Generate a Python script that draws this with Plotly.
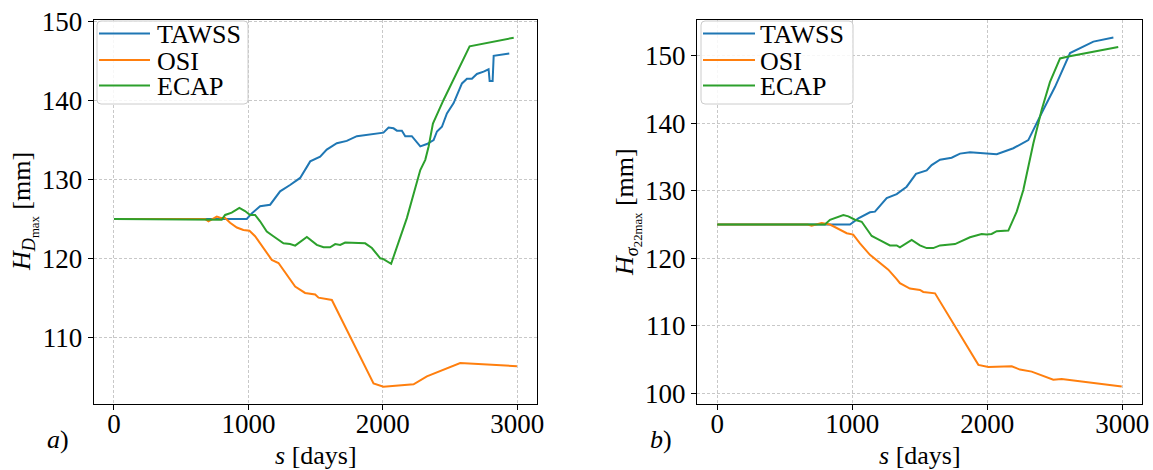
import plotly.graph_objects as go

W, H = 1153, 470

# ---- data: s [days] vs H [mm] ----
# panel a) : H_{D max}
a_tawss_s = [0, 988, 1025, 1087, 1162, 1236, 1310, 1385, 1460, 1534, 1583, 1658, 1732, 1807,
             2005, 2043, 2080, 2105, 2142, 2167, 2216, 2279, 2328, 2378, 2403, 2440, 2477,
             2527, 2589, 2626, 2663, 2700, 2750, 2787, 2795, 2817, 2825, 2874, 2941]
a_tawss_h = [125, 125, 125.7, 126.6, 126.8, 128.5, 129.3, 130.2, 132.3, 132.9, 133.8, 134.6,
             134.9, 135.5, 135.95, 136.6, 136.5, 136.2, 136.2, 135.5, 135.5, 134.2, 134.5,
             135.0, 136.1, 136.7, 138.4, 139.7, 142.2, 142.8, 142.8, 143.4, 143.7, 144.0,
             142.5, 142.5, 145.7, 145.8, 146.0]

a_osi_s = [0, 678, 703, 735, 765, 800, 827, 864, 914, 963, 1008, 1050, 1112, 1174, 1224, 1286,
           1348, 1422, 1497, 1522, 1621, 1931, 2005, 2229, 2328, 2576, 2998]
a_osi_h = [125, 125, 124.7, 125.0, 125.3, 125.1, 125.1, 124.5, 123.9, 123.6, 123.5, 122.8,
           121.3, 119.8, 119.4, 117.9, 116.4, 115.6, 115.4, 115.0, 114.7, 104.1, 103.7,
           104.0, 105.0, 106.7, 106.3]

a_ecap_s = [0, 802, 827, 876, 933, 975, 1013, 1050, 1087, 1137, 1186, 1261, 1310, 1348, 1435,
            1509, 1559, 1608, 1646, 1683, 1720, 1869, 1919, 1981, 2005, 2062, 2179, 2279,
            2316, 2341, 2373, 2452, 2646, 2974]
a_ecap_h = [125, 124.9, 125.5, 125.8, 126.4, 126.0, 125.5, 125.5, 124.7, 123.4, 122.8, 121.9,
            121.8, 121.6, 122.7, 121.7, 121.4, 121.4, 121.8, 121.7, 122.0, 121.9, 121.3,
            120.0, 119.9, 119.3, 125.1, 131.2, 132.5, 134.2, 137.1, 140.1, 146.9, 148.0]

# panel b) : H_{sigma22 max}
b_tawss_s = [0, 983, 1045, 1131, 1168, 1255, 1329, 1403, 1472, 1551, 1588, 1650, 1736, 1798,
             1872, 1970, 2070, 2193, 2304, 2415, 2502, 2613, 2687, 2786, 2934]
b_tawss_h = [125, 125, 125.9, 126.8, 126.9, 128.9, 129.5, 130.6, 132.5, 133.0, 133.8, 134.6,
             134.9, 135.5, 135.7, 135.5, 135.4, 136.3, 137.5, 142.0, 145.4, 150.4, 151.1,
             152.1, 152.7]

b_osi_s = [0, 670, 699, 735, 773, 835, 909, 959, 1007, 1057, 1131, 1193, 1267, 1329, 1353,
           1427, 1501, 1526, 1613, 1934, 2008, 2181, 2242, 2329, 2489, 2551, 2996]
b_osi_h = [125, 125, 124.8, 125.0, 125.2, 125.0, 124.2, 123.7, 123.5, 122.2, 120.5, 119.5,
           118.3, 116.9, 116.3, 115.5, 115.3, 115.0, 114.8, 104.2, 103.9, 104.0, 103.5,
           103.2, 102.0, 102.1, 101.0]

b_ecap_s = [0, 798, 835, 884, 934, 971, 1020, 1070, 1107, 1144, 1193, 1279, 1329, 1353, 1440,
            1501, 1551, 1600, 1650, 1699, 1761, 1872, 1921, 1958, 1995, 2032, 2070, 2156,
            2218, 2267, 2341, 2403, 2464, 2539, 2600, 2970]
b_ecap_h = [125, 125.0, 125.7, 126.0, 126.4, 126.2, 125.7, 125.4, 124.4, 123.3, 122.8, 121.9,
            121.9, 121.6, 122.7, 121.9, 121.5, 121.5, 121.9, 122.0, 122.1, 123.1, 123.4,
            123.6, 123.5, 123.6, 124.0, 124.1, 126.9, 130.1, 137.0, 142.0, 146.1, 149.6,
            149.9, 151.3]

series_names = ["TAWSS", "OSI", "ECAP"]
colors = ["#1f77b4", "#ff7f0e", "#2ca02c"]

x_ticks = [0, 1000, 2000, 3000]
a_y_ticks = [110, 120, 130, 140, 150]
b_y_ticks = [100, 110, 120, 130, 140, 150]

FONT = "Liberation Serif"
FS = 26
TICK_FS = 27


def px_x(p):
    return p / W


def px_y(p):
    return 1 - p / H


fig = go.Figure()

panels = [
    ("x", "y", [(a_tawss_s, a_tawss_h), (a_osi_s, a_osi_h), (a_ecap_s, a_ecap_h)]),
    ("x2", "y2", [(b_tawss_s, b_tawss_h), (b_osi_s, b_osi_h), (b_ecap_s, b_ecap_h)]),
]
for xa, ya, data in panels:
    for (s, h), name, c in zip(data, series_names, colors):
        fig.add_trace(go.Scatter(x=s, y=h, mode="lines", name=name, xaxis=xa, yaxis=ya,
                                 line=dict(color=c, width=2), showlegend=False))

axis_common = dict(
    showline=True, mirror=True, linecolor="black", linewidth=1.2,
    ticks="outside", ticklen=5, tickwidth=1.2, tickcolor="black",
    showgrid=True, gridcolor="#c8c8c8", gridwidth=1, griddash="3px,2px",
    zeroline=False, automargin=False,
    tickfont=dict(family=FONT, size=TICK_FS, color="black"),
)

ydom = [px_y(404), px_y(20)]
fig.update_layout(
    width=W, height=H,
    margin=dict(l=0, r=0, t=0, b=0),
    paper_bgcolor="white", plot_bgcolor="white",
    font=dict(family=FONT, size=FS, color="black"),
    xaxis=dict(domain=[px_x(93.8), px_x(537.1)], range=[-150, 3148], tickvals=x_ticks,
               anchor="y", ticklabelstandoff=-10, **axis_common),
    yaxis=dict(domain=ydom, range=[101.5, 150.25], tickvals=a_y_ticks, anchor="x",
               **axis_common),
    xaxis2=dict(domain=[px_x(697), px_x(1142)], range=[-150, 3146], tickvals=x_ticks,
                anchor="y2", ticklabelstandoff=-10, **axis_common),
    yaxis2=dict(domain=ydom, range=[98.4, 155.3], tickvals=b_y_ticks, anchor="x2",
                **axis_common),
)

shapes = []
annotations = []


def text(x, y, s, angle=0, xanchor="center", yanchor="middle", size=FS):
    annotations.append(dict(x=px_x(x), y=px_y(y), xref="paper", yref="paper", text=s,
                            showarrow=False, textangle=angle, xanchor=xanchor,
                            yanchor=yanchor, font=dict(family=FONT, size=size, color="black")))


def rounded_box(x0, y0, x1, y1, r=4):
    X0, X1 = px_x(x0), px_x(x1)
    Y0, Y1 = px_y(y0), px_y(y1)
    rx, ry = r / W, r / H
    path = (f"M{X0 + rx},{Y0} L{X1 - rx},{Y0} Q{X1},{Y0} {X1},{Y0 - ry} "
            f"L{X1},{Y1 + ry} Q{X1},{Y1} {X1 - rx},{Y1} L{X0 + rx},{Y1} "
            f"Q{X0},{Y1} {X0},{Y1 + ry} L{X0},{Y0 - ry} Q{X0},{Y0} {X0 + rx},{Y0} Z")
    shapes.append(dict(type="path", path=path, xref="paper", yref="paper",
                       line=dict(color="#cccccc", width=1),
                       fillcolor="rgba(255,255,255,0.85)", layer="above"))


def legend(x0, y0, x1, y1, line_x0, line_x1, rows_y, text_x):
    rounded_box(x0, y0, x1, y1)
    for name, c, ry in zip(series_names, colors, rows_y):
        shapes.append(dict(type="line", xref="paper", yref="paper",
                           x0=px_x(line_x0), x1=px_x(line_x1), y0=px_y(ry), y1=px_y(ry),
                           line=dict(color=c, width=2), layer="above"))
        text(text_x, ry + 1, name, xanchor="left")


legend(97, 21, 248, 104, 99, 150, [33.5, 60, 85.5], 155)
legend(701, 21, 853, 104, 703, 755, [33.5, 60, 85.5], 758)

# axis titles and panel tags
text(24, 212, "<i>H</i><sub><i>D</i><sub>max</sub></sub> [mm]", angle=-90)
text(627, 212, "<i>H</i><sub><i>σ</i><sub>22max</sub></sub> [mm]", angle=-90)
text(316, 455, "<i>s</i> [days]")
text(920, 455, "<i>s</i> [days]")
text(58, 439, "<i>a</i>)")
text(661, 439, "<i>b</i>)")

fig.update_layout(shapes=shapes, annotations=annotations)
fig.write_html("out.html")
